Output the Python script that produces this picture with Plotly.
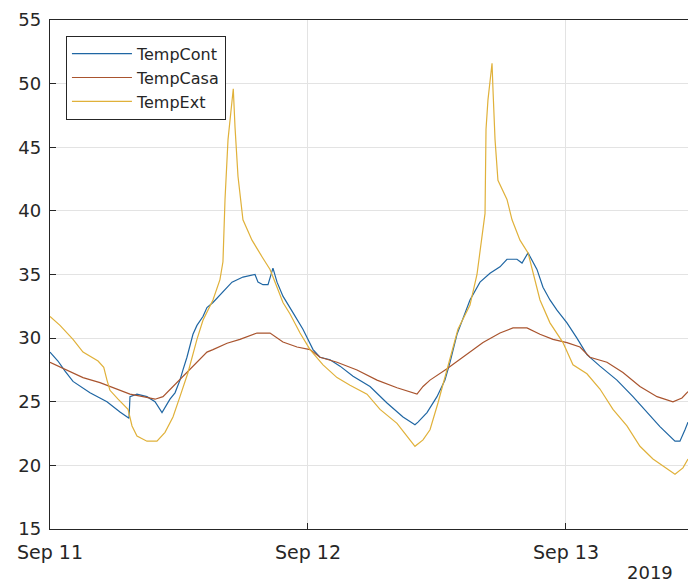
import plotly.graph_objects as go
import pandas as pd

# hours after 2019-09-11 00:00
ext_h = [0, 0.93, 2.14, 3.07, 4.47, 5.0, 5.30, 5.58, 6.33, 7.26, 7.63, 8.09, 9.02, 9.95,
         10.70, 11.44, 12.09, 12.84, 13.67, 14.23, 15.16, 15.81, 16.09, 16.28, 16.56, 16.93,
         17.05, 17.21, 17.49, 17.95, 18.79, 19.72, 20.47, 21.12, 21.67, 22.33, 23.26, 24.19,
         25.40, 26.70, 27.91, 29.49, 30.70, 32.28, 33.95, 34.70, 35.35, 36.09, 37.02, 37.95,
         39.07, 39.72, 40.47, 40.56, 40.74, 41.12, 41.21, 41.40, 41.67, 42.51, 42.98, 43.72,
         44.47, 45.30, 45.58, 46.51, 47.72, 48.65, 49.95, 51.16, 52.37, 53.67, 54.88, 56.09,
         57.40, 58.14, 58.88, 59.35]
ext_v = [31.7, 31.0, 29.9, 28.9, 28.2, 27.7, 26.7, 25.9, 25.2, 24.4, 23.1, 22.3, 21.9, 21.9,
         22.6, 23.8, 25.4, 27.3, 29.9, 31.4, 33.0, 34.6, 36.0, 40.9, 45.6, 48.7,
         49.6, 46.6, 42.7, 39.3, 37.7, 36.4, 35.4, 34.0, 32.8, 31.9, 30.4, 29.1,
         27.9, 26.9, 26.3, 25.6, 24.4, 23.3, 21.5, 22.0, 22.8, 24.9, 27.7, 30.7,
         32.6, 35.0, 39.8, 46.4, 48.7, 51.6, 49.5, 45.6, 42.4, 40.9, 39.3, 37.7,
         36.7, 34.0, 33.0, 31.2, 29.65, 27.9, 27.2, 26.0, 24.4, 23.1, 21.5, 20.5,
         19.7, 19.3, 19.8, 20.5]

cont_h = [0, 0.74, 1.40, 2.14, 3.72, 5.30, 6.51, 7.26, 7.35, 7.44, 8.09, 9.02, 9.77, 10.42,
          11.16, 11.63, 12.09, 12.37, 12.74, 13.30, 13.67, 14.23, 14.60, 15.16, 16.09, 16.93,
          17.95, 19.07, 19.35, 19.81, 20.28, 20.74, 21.12, 21.67, 22.60, 23.53, 24.47, 25.12,
          26.05, 26.98, 28.19, 29.77, 31.35, 32.84, 33.95, 34.23, 35.07, 36.0, 36.74, 37.21,
          37.86, 38.14, 39.07, 40.0, 40.93, 41.86, 42.51, 43.44, 43.91, 44.47, 45.30, 45.86,
          46.51, 47.16, 48.09, 49.02, 49.95, 51.16, 52.74, 54.23, 55.53, 56.74, 58.14, 58.60,
          59.07, 59.35]
cont_v = [28.9, 28.2, 27.4, 26.6, 25.7, 25.0, 24.2, 23.8, 23.7, 25.4, 25.6, 25.4, 25.0, 24.15,
          25.2, 25.7, 26.7, 27.5, 28.5, 30.3, 31.0, 31.7, 32.4, 32.8, 33.6, 34.4,
          34.8, 35.0, 34.4, 34.2, 34.2, 35.5, 34.4, 33.3, 32.0, 30.7, 29.1, 28.5,
          28.3, 27.8, 27.0, 26.2, 24.9, 23.8, 23.2, 23.4, 24.15, 25.4, 26.7, 28.1,
          30.3, 30.9, 33.0, 34.4, 35.1, 35.6, 36.2, 36.2, 35.9, 36.7, 35.4, 34.0,
          33.0, 32.2, 31.2, 30.0, 28.7, 27.8, 26.7, 25.4, 24.15, 23.05, 21.9, 21.9,
          22.8, 23.4]

casa_h = [0, 1.58, 3.07, 4.65, 6.23, 7.44, 8.65, 9.77, 10.51, 11.44, 12.09, 13.67, 14.60,
          15.16, 16.47, 17.67, 19.26, 20.47, 21.67, 22.98, 24.19, 25.12, 26.70, 28.56, 30.42,
          32.28, 34.14, 34.70, 35.35, 36.93, 38.42, 40.28, 41.86, 43.07, 44.37, 45.58, 46.79,
          48.09, 49.30, 50.23, 51.81, 53.30, 54.88, 56.47, 57.95, 58.79, 59.35]
casa_v = [28.1, 27.5, 26.9, 26.5, 26.0, 25.6, 25.4, 25.2, 25.4, 26.2, 26.7, 28.1, 28.9,
          29.1, 29.6, 29.9, 30.4, 30.4, 29.7, 29.3, 29.1, 28.5, 28.1, 27.5, 26.7,
          26.1, 25.6, 26.2, 26.7, 27.6, 28.5, 29.65, 30.4, 30.8, 30.8, 30.3, 29.9,
          29.65, 29.3, 28.5, 28.1, 27.3, 26.2, 25.4, 25.0, 25.3, 25.8]

tick_dates = ["2019-09-11", "2019-09-12", "2019-09-13"]
tick_labels = ["Sep 11", "Sep 12", "Sep 13"]
y_ticks = [15, 20, 25, 30, 35, 40, 45, 50, 55]

start = pd.Timestamp("2019-09-11 00:00")
def to_t(hs):
    return [start + pd.Timedelta(hours=h) for h in hs]

FONT = "DejaVu Sans"
TXT = "#262626"

fig = go.Figure()
fig.add_trace(go.Scatter(x=to_t(cont_h), y=cont_v, mode="lines", name="TempCont",
                         line=dict(color="#1f66a3", width=1.2)))
fig.add_trace(go.Scatter(x=to_t(casa_h), y=casa_v, mode="lines", name="TempCasa",
                         line=dict(color="#a9542e", width=1.2)))
fig.add_trace(go.Scatter(x=to_t(ext_h), y=ext_v, mode="lines", name="TempExt",
                         line=dict(color="#e0b13a", width=1.2)))

fig.update_layout(
    width=688, height=584,
    margin=dict(l=50, r=0, t=20, b=55),
    paper_bgcolor="white", plot_bgcolor="white",
    font=dict(family=FONT, size=17, color=TXT),
    showlegend=True,
    legend=dict(x=0.025, y=0.969, xanchor="left", yanchor="top",
                bgcolor="white", bordercolor=TXT, borderwidth=1,
                font=dict(family=FONT, size=16, color=TXT),
                tracegroupgap=0, itemwidth=60),
    xaxis=dict(type="date",
               range=[start, start + pd.Timedelta(hours=59.35)],
               tickvals=tick_dates, ticktext=tick_labels,
               showgrid=True, gridcolor="#e3e3e3", gridwidth=1,
               showline=True, linecolor=TXT, linewidth=1.3, mirror=True,
               ticks="inside", ticklen=6, tickcolor=TXT, tickwidth=1.3,
               ticklabelstandoff=6,
               tickfont=dict(family=FONT, size=19, color=TXT),
               zeroline=False),
    yaxis=dict(range=[15, 55], tickvals=y_ticks,
               showgrid=True, gridcolor="#e3e3e3", gridwidth=1,
               showline=True, linecolor=TXT, linewidth=1.3,
               ticks="inside", ticklen=6, tickcolor=TXT, tickwidth=1.3,
               ticklabelstandoff=4,
               tickfont=dict(family=FONT, size=18, color=TXT),
               zeroline=False),
    annotations=[dict(text="2019", xref="paper", yref="paper", x=0.940, y=-0.085,
                      xanchor="center", yanchor="middle", showarrow=False,
                      font=dict(family=FONT, size=18, color=TXT))],
)

fig.write_html("out.html")
